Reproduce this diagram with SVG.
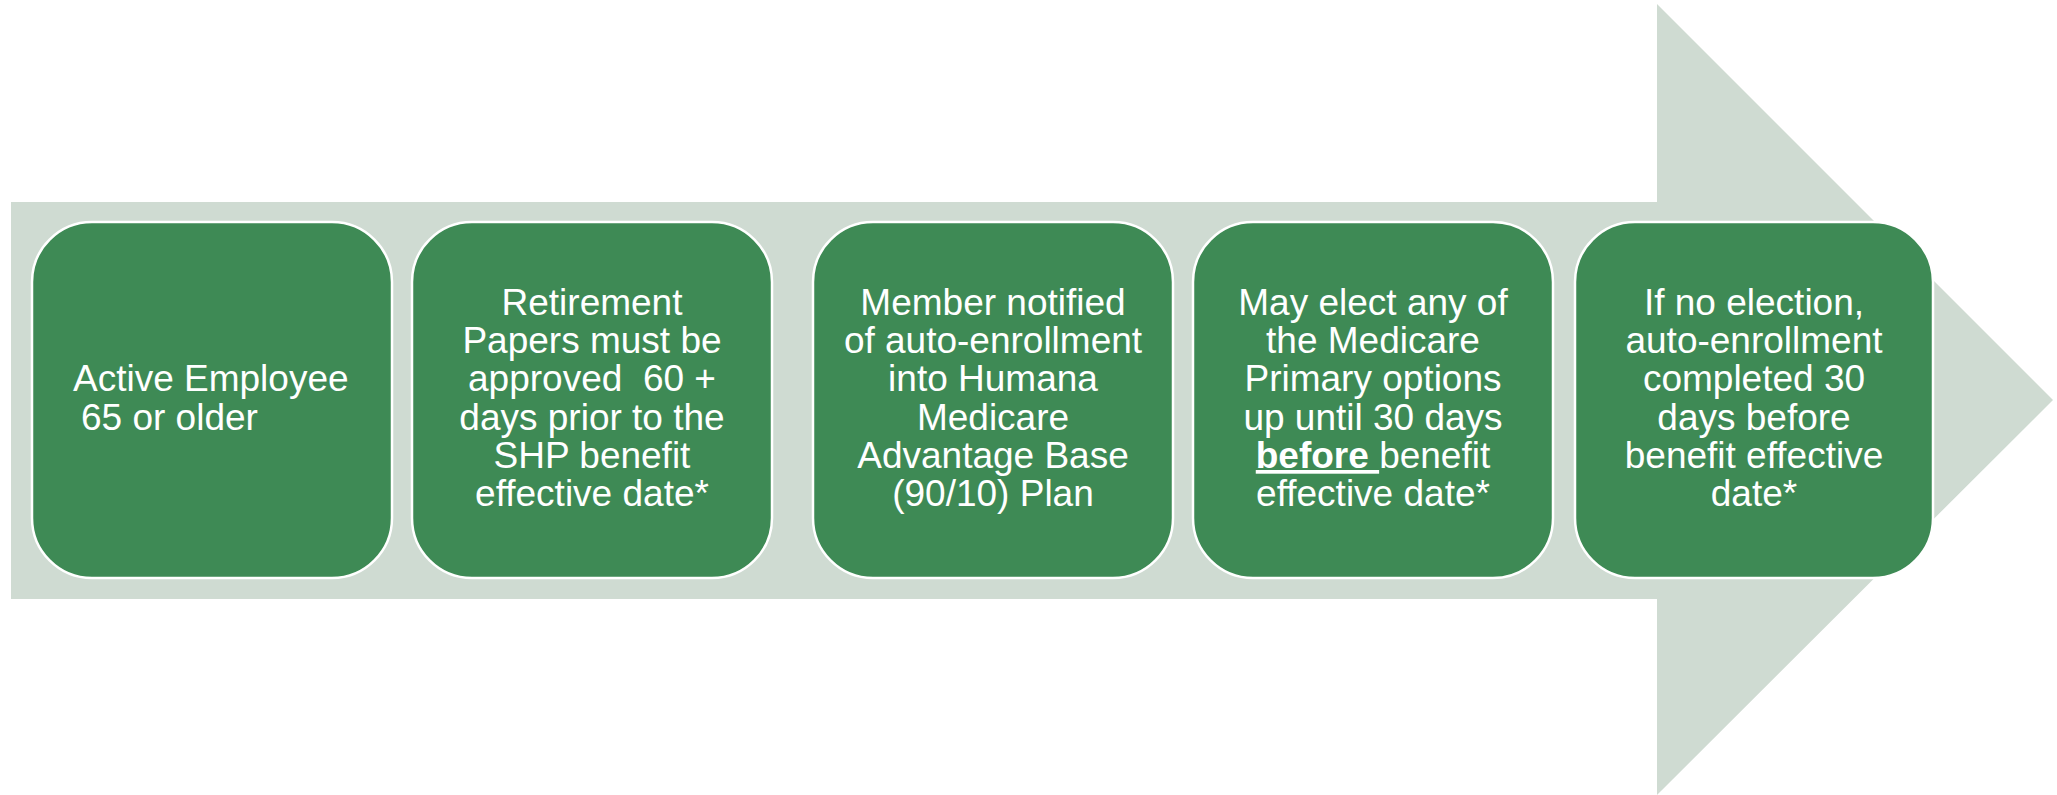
<svg xmlns="http://www.w3.org/2000/svg" width="2057" height="795" viewBox="0 0 2057 795">
<style>
.box{fill:#3E8A55;stroke:#FFFFFF;stroke-width:2.5}
.t{font-family:"Liberation Sans",Arial,sans-serif;font-size:37px;fill:#FFFFFF;text-anchor:middle}
.tl{font-family:"Liberation Sans",Arial,sans-serif;font-size:37px;fill:#FFFFFF}
</style>
<rect width="2057" height="795" fill="#FFFFFF"/>
<g id="arrow">
<polygon points="11,202 1657,202 1657,4 2053,400 1657,795 1657,599 11,599" fill="#CFDBD2"/>
</g>
<g id="connectors"></g>
<g id="node1">
<rect class="box" x="32" y="222" width="360" height="356" rx="60" ry="60"/>
<text class="tl"><tspan x="73" y="391">Active Employee</tspan><tspan x="81" y="430">65 or older</tspan></text>
</g>
<g id="node2">
<rect class="box" x="412" y="222" width="360" height="356" rx="60" ry="60"/>
<text class="t"><tspan x="592" y="315">Retirement</tspan><tspan x="592" y="353">Papers must be</tspan><tspan x="592" y="391" xml:space="preserve">approved  60 +</tspan><tspan x="592" y="430">days prior to the</tspan><tspan x="592" y="468">SHP benefit</tspan><tspan x="592" y="506">effective date*</tspan></text>
</g>
<g id="node3">
<rect class="box" x="813" y="222" width="360" height="356" rx="60" ry="60"/>
<text class="t"><tspan x="993" y="315">Member notified</tspan><tspan x="993" y="353">of auto-enrollment</tspan><tspan x="993" y="391">into Humana</tspan><tspan x="993" y="430">Medicare</tspan><tspan x="993" y="468">Advantage Base</tspan><tspan x="993" y="506">(90/10) Plan</tspan></text>
</g>
<g id="node4">
<rect class="box" x="1193" y="222" width="360" height="356" rx="60" ry="60"/>
<text class="t"><tspan x="1373" y="315">May elect any of</tspan><tspan x="1373" y="353">the Medicare</tspan><tspan x="1373" y="391">Primary options</tspan><tspan x="1373" y="430">up until 30 days</tspan><tspan x="1373" y="468"><tspan font-weight="bold" text-decoration="underline" xml:space="preserve">before </tspan>benefit</tspan><tspan x="1373" y="506">effective date*</tspan></text>
</g>
<g id="node5">
<rect class="box" x="1575" y="222" width="358" height="356" rx="60" ry="60"/>
<text class="t"><tspan x="1754" y="315">If no election,</tspan><tspan x="1754" y="353">auto-enrollment</tspan><tspan x="1754" y="391">completed 30</tspan><tspan x="1754" y="430">days before</tspan><tspan x="1754" y="468">benefit effective</tspan><tspan x="1754" y="506">date*</tspan></text>
</g>
</svg>
